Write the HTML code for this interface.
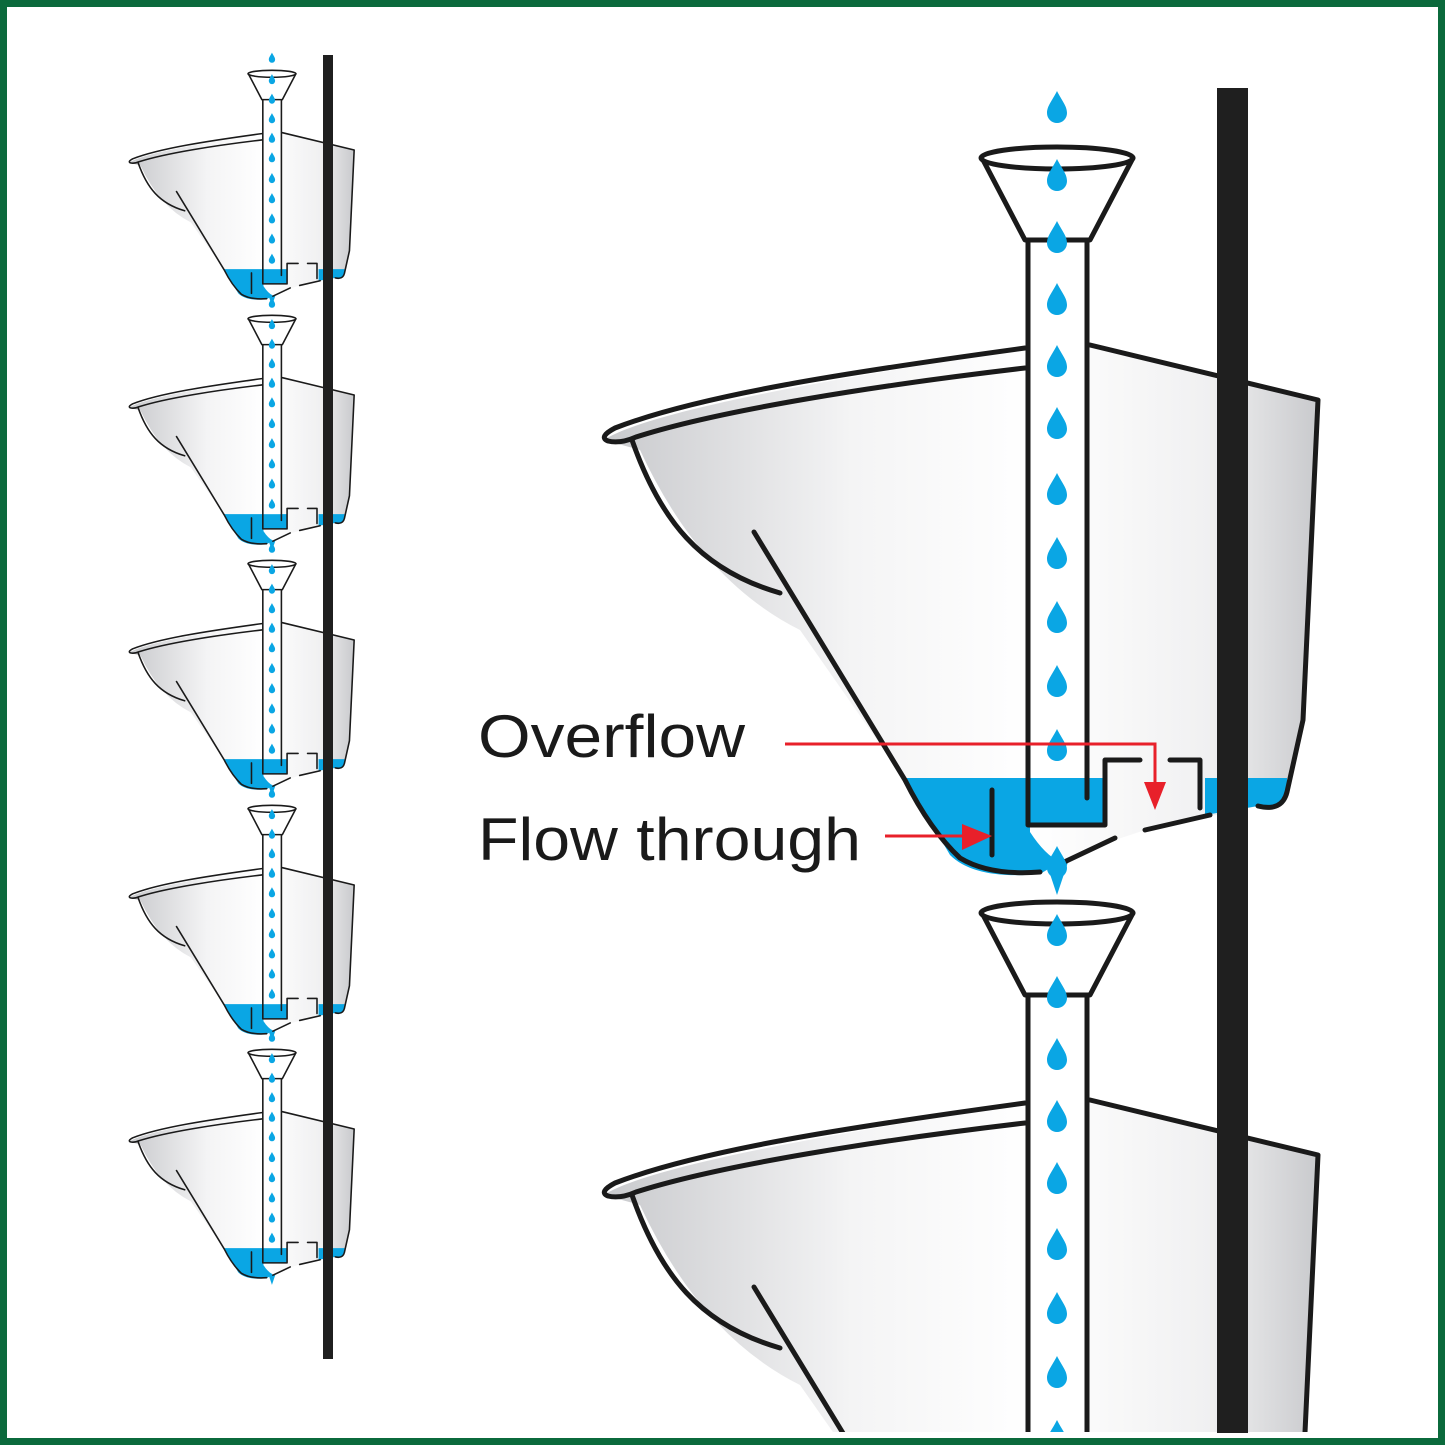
<!DOCTYPE html>
<html><head><meta charset="utf-8"><style>
html,body{margin:0;padding:0;background:#fff;width:1445px;height:1445px;overflow:hidden;}
svg{display:block;}
</style></head><body>
<svg width="1445" height="1445" viewBox="0 0 1445 1445" xmlns="http://www.w3.org/2000/svg">
<defs>
<linearGradient id="gL" x1="600" y1="0" x2="1320" y2="0" gradientUnits="userSpaceOnUse">
<stop offset="0" stop-color="#c8c9cc"/><stop offset="0.35" stop-color="#f4f4f5"/><stop offset="0.6" stop-color="#ffffff"/><stop offset="0.85" stop-color="#f0f0f1"/><stop offset="1" stop-color="#c8c9cc"/>
</linearGradient>
<path id="drop" d="M0,-17 C5,-7 10,-2 10,5 A10,10 0 0 1 -10,5 C-10,-2 -5,-7 0,-17Z" fill="#0aa6e4"/>
<g id="planter">
  <path d="M604,440 C650,410 850,375 1025,350 L1090,345 L1318,400 L1303,720 L1287,792 Q1282,812 1258,806 L1145,830 L1100,845 L1060,866 L1040,874 Q975,880 950,855 L905,780 L800,630 Q700,580 640,450 Z" fill="url(#gL)"/>
  <path d="M905,778 L1105,778 L1105,825 L1030,825 L1030,832 Q1045,855 1060,862 L1040,874 Q975,880 950,855 Z" fill="#0aa6e4"/>
  <path d="M1205,778 L1287,778 L1287,792 Q1282,812 1258,806 L1205,815 Z" fill="#0aa6e4"/>
  <path d="M1046,862 L1068,862 L1057,895 Z" fill="#0aa6e4"/>
  <rect x="1030" y="242" width="55" height="536" fill="#fff"/>
  <g fill="none" stroke="#1a1a1a" stroke-width="5" stroke-linecap="round" stroke-linejoin="round">
    <path d="M1025,348 C850,372 700,395 615,428 Q598,437 608,441 Q620,444 636,437 C720,410 880,385 1025,368"/>
    <path d="M632,440 C660,520 700,570 780,593"/>
    <path d="M754,532 L905,780 Q930,830 960,858 Q990,876 1040,872"/>
    <path d="M1090,345 L1318,400 L1303,720 L1287,792 Q1282,812 1258,806"/>
    <path d="M1145,830 L1210,815"/>
    <path d="M1060,864 L1115,838"/>
    <path d="M992,790 L992,855"/>
    <path d="M1028,240 L1028,825 L1105,825 L1105,760 L1140,760"/>
    <path d="M1087,240 L1087,798"/>
    <path d="M1170,760 L1200,760 L1200,808"/>
  </g>
  <path d="M982,158 L1025,240 L1090,240 L1133,158 Z" fill="#fff" stroke="#1a1a1a" stroke-width="5" stroke-linejoin="round"/>
  <ellipse cx="1057" cy="158" rx="76" ry="11" fill="#fff" stroke="#1a1a1a" stroke-width="5"/>
  <use href="#drop" x="1057" y="108"/>
  <use href="#drop" x="1057" y="176"/>
  <use href="#drop" x="1057" y="238"/>
  <use href="#drop" x="1057" y="300"/>
  <use href="#drop" x="1057" y="362"/>
  <use href="#drop" x="1057" y="424"/>
  <use href="#drop" x="1057" y="490"/>
  <use href="#drop" x="1057" y="554"/>
  <use href="#drop" x="1057" y="618"/>
  <use href="#drop" x="1057" y="682"/>
  <use href="#drop" x="1057" y="746"/>
</g>
<clipPath id="cl"><rect x="0" y="0" width="1445" height="1432"/></clipPath>
</defs>

<g clip-path="url(#cl)">
  <use href="#planter"/>
  <use href="#planter" y="755"/>
</g>
<rect x="1217" y="88" width="31" height="1345" fill="#1f1f1f"/>

<g stroke="#e8202a" stroke-width="3" fill="none">
  <path d="M785,744 L1155,744 L1155,790"/>
  <path d="M885,836 L970,836"/>
</g>
<path d="M1144,782 L1166,782 L1155,810 Z" fill="#e8202a"/>
<path d="M962,824 L992,836 L962,850 Z" fill="#e8202a"/>

<text x="478" y="757" font-family="Liberation Sans, sans-serif" font-size="60" fill="#1a1a1a" textLength="267" lengthAdjust="spacingAndGlyphs">Overflow</text>
<text x="478" y="860" font-family="Liberation Sans, sans-serif" font-size="60" fill="#1a1a1a" textLength="383" lengthAdjust="spacingAndGlyphs">Flow through</text>

<g transform="translate(-61,24) scale(0.315)"><use href="#planter"/></g>
<g transform="translate(-61,269) scale(0.315)"><use href="#planter"/></g>
<g transform="translate(-61,514) scale(0.315)"><use href="#planter"/></g>
<g transform="translate(-61,759) scale(0.315)"><use href="#planter"/></g>
<g transform="translate(-61,1003) scale(0.315)"><use href="#planter"/></g>
<rect x="323" y="55" width="10" height="1304" fill="#1f1f1f"/>

<rect x="3.5" y="3.5" width="1438" height="1438" fill="none" stroke="#0b6a3c" stroke-width="7"/>
</svg>
</body></html>
